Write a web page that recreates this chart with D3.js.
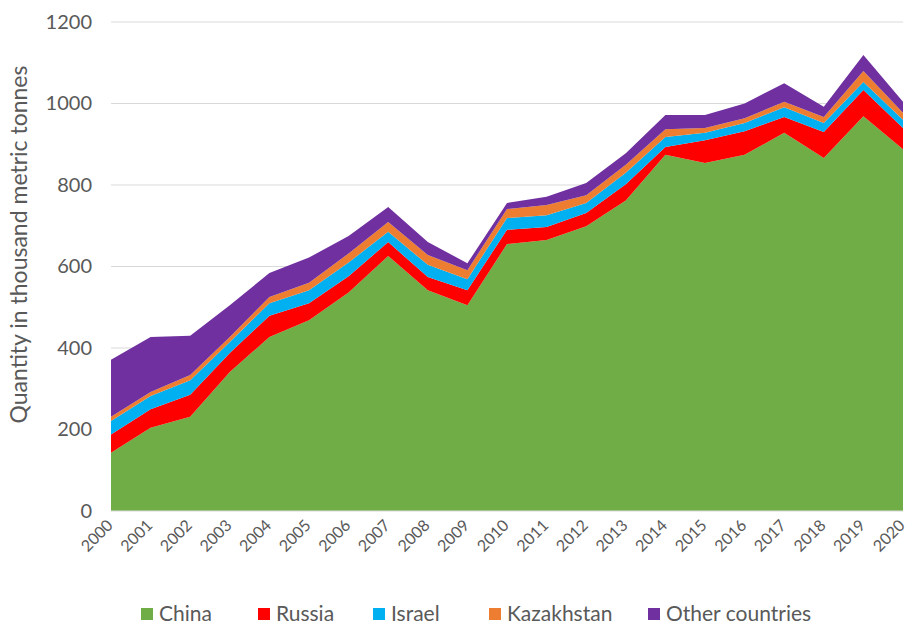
<!DOCTYPE html>
<head>
  <meta charset="utf-8">
  <script src="https://d3js.org/d3.v7.min.js"></script>
  <style>
    body { margin: 0; background: #fff; font-family: Lato, "Open Sans", sans-serif; color: #595959; }
    .grid line { stroke: #d9d9d9; stroke-width: 1px; }
    .axis text { fill: #595959; }
  </style>
</head>
<body>
  <div id="vis"></div>
  <script>

    var years = d3.range(2000, 2021);
    var countries = ["China", "Russia", "Israel", "Kazakhstan", "Other countries"];
    var colors = ["#70ad47", "#ff0000", "#00b0f0", "#ed7d31", "#7030a0"];

    // thousand metric tonnes
    var china = [143, 204, 231, 341, 427, 468, 536, 626, 542, 505, 655, 665, 699, 762, 874, 854, 874, 928, 866, 969, 888];
    var russia = [45, 46, 54, 47, 52, 42, 40, 34, 32, 37, 35, 32, 32, 40, 19, 56, 58, 39, 64, 64, 52];
    var israel = [33, 32, 36, 27, 31, 32, 34, 25, 30, 27, 29, 29, 25, 28, 25, 18, 20, 24, 22, 20, 20];
    var kazakhstan = [10, 10, 13, 12, 15, 18, 22, 24, 24, 22, 22, 25, 19, 20, 19, 12, 12, 13, 15, 27, 17];
    var other = [140, 135, 96, 78, 59, 62, 43, 37, 32, 17, 15, 20, 30, 28, 35, 32, 36, 46, 25, 39, 27];

    var yTicks = [0, 200, 400, 600, 800, 1000, 1200];

    var series = [china, russia, israel, kazakhstan, other];
    var table = years.map(function (yr, i) {
      var row = { year: yr };
      countries.forEach(function (c, j) { row[c] = series[j][i]; });
      return row;
    });

    var W = 909, H = 628;
    var margin = { top: 22, right: 2, bottom: 117, left: 111 },
      width = W - margin.left - margin.right,
      height = H - margin.top - margin.bottom;

    var svg = d3.select("#vis").append("svg")
      .attr("width", W)
      .attr("height", H);

    var g = svg.append("g")
      .attr("transform", "translate(" + margin.left + "," + margin.top + ")");

    var x = d3.scaleLinear().domain([2000, 2020]).range([0, width - 4]);
    var y = d3.scaleLinear().domain([0, 1200]).range([height, 0]);

    // gridlines
    g.append("g")
      .attr("class", "grid")
      .selectAll("line")
      .data(yTicks.slice(1))
      .enter().append("line")
      .attr("x1", 0)
      .attr("x2", width - 4)
      .attr("y1", d => y(d))
      .attr("y2", d => y(d));

    var stack = d3.stack().keys(countries);
    var layers = stack(table);

    var area = d3.area()
      .x(d => x(d.data.year))
      .y0(d => y(d[0]))
      .y1(d => y(d[1]));

    g.selectAll(".layer")
      .data(layers)
      .enter().append("path")
      .attr("class", "layer")
      .attr("d", area)
      .attr("fill", (d, i) => colors[i]);

    // baseline
    g.append("line")
      .attr("x1", 0).attr("x2", width - 4)
      .attr("y1", height).attr("y2", height)
      .attr("stroke", "#d9d9d9");

    // y axis
    var yAxis = g.append("g")
      .attr("class", "axis")
      .call(d3.axisLeft(y).tickValues(yTicks).tickFormat(d3.format("d")).tickSize(0).tickPadding(19));
    yAxis.select(".domain").remove();
    yAxis.selectAll("text")
      .style("font-size", "20px")
      .style("font-family", "Lato, sans-serif");

    // x axis
    var xAxis = g.append("g")
      .attr("class", "axis")
      .attr("transform", "translate(0," + height + ")")
      .call(d3.axisBottom(x).tickValues(years).tickFormat(d3.format("d")).tickSize(0));
    xAxis.select(".domain").remove();
    xAxis.selectAll("text")
      .style("font-size", "16px")
      .style("font-family", "Lato, sans-serif")
      .attr("text-anchor", "end")
      .attr("dy", "0.3em")
      .attr("y", 0)
      .attr("transform", "translate(-1,12) rotate(-45)");

    // y axis title
    svg.append("text")
      .attr("transform", "translate(27," + (margin.top + height / 2 - 22) + ") rotate(-90)")
      .attr("text-anchor", "middle")
      .style("font-size", "23px")
      .style("fill", "#595959")
      .text("Quantity in thousand metric tonnes");

    // legend
    var legendX = [141, 258, 373, 489, 648];
    var legend = svg.append("g")
      .attr("transform", "translate(0,614)");
    var items = legend.selectAll("g")
      .data(countries)
      .enter().append("g")
      .attr("transform", (d, i) => "translate(" + legendX[i] + ",0)");
    items.append("rect")
      .attr("x", 0).attr("y", -6)
      .attr("width", 12).attr("height", 12)
      .attr("fill", (d, i) => colors[i]);
    items.append("text")
      .attr("x", 18)
      .attr("y", 0)
      .attr("dy", "0.35em")
      .style("font-size", "21px")
      .style("fill", "#595959")
      .text(d => d);

  </script>
</body>
